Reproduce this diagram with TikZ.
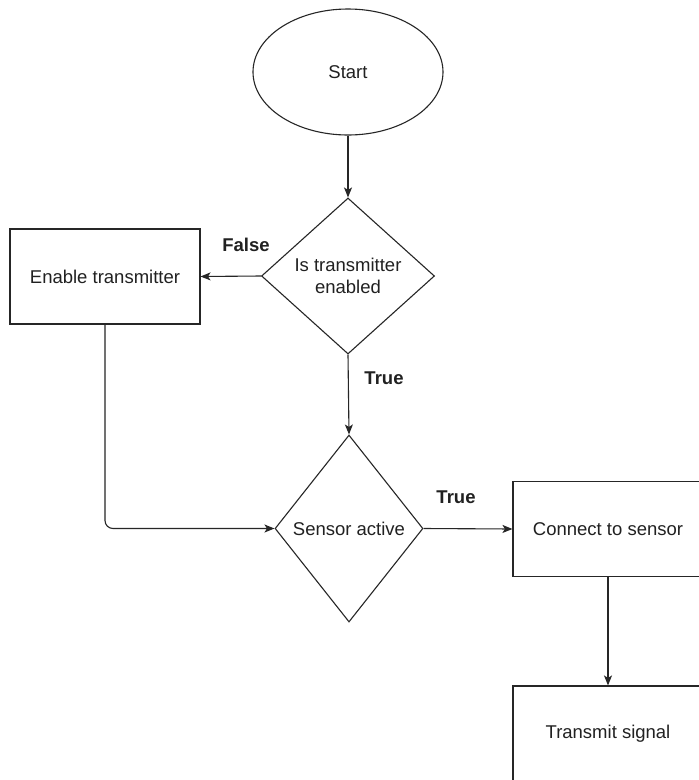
\documentclass[tikz,border=0pt]{standalone}
\usepackage{fontspec}
\setmainfont{Liberation Sans}
\usetikzlibrary{shapes.geometric,arrows.meta}
\begin{document}
\begin{tikzpicture}[x=1pt,y=-1pt,
  every node/.style={font=\fontsize{18.5}{21.5}\selectfont, text=black!87},
  line/.style={draw=black!85, line width=1.1pt},
  arr/.style={line, -{Stealth[length=10pt,width=8pt,inset=2.5pt]}},
  procbox/.style={line, rectangle, minimum width=190pt, minimum height=95pt, inner sep=0pt},
  decision/.style={line, diamond, inner sep=0pt, aspect=1, align=center},
  startshape/.style={line, ellipse, minimum width=190pt, minimum height=126pt, inner sep=0pt},
  lbl/.style={font=\fontsize{18.5}{21.5}\selectfont\bfseries}
]
\clip (0,0) rectangle (699,780);
\fill[white] (0,0) rectangle (699,780);
\node[startshape] (start) at (348,72) {Start};
\node[decision, minimum width=173pt, minimum height=156pt] (d1) at (348,276) {Is transmitter\\enabled};
\node[procbox] (enable) at (105,276.5) {Enable transmitter};
\node[decision, minimum width=148pt, minimum height=187pt] (d2) at (349,528.5) {Sensor active};
\node[procbox] (connect) at (608,529) {Connect to sensor};
\node[procbox] (transmit) at (608,733.5) {Transmit signal};
\node[lbl] (lfalse) at (246,245) {False};
\node[lbl] (ltrue1) at (384,378) {True};
\node[lbl] (ltrue2) at (456,497) {True};
\draw[arr] (start.south) -- (d1.north);
\draw[arr] (d1.west) -- (enable.east);
\draw[arr] (d1.south) -- (d2.north);
\draw[arr, rounded corners=8pt] (enable.south) |- (d2.west);
\draw[arr] (d2.east) -- (connect.west);
\draw[arr] (connect.south) -- (transmit.north);
\end{tikzpicture}
\end{document}
